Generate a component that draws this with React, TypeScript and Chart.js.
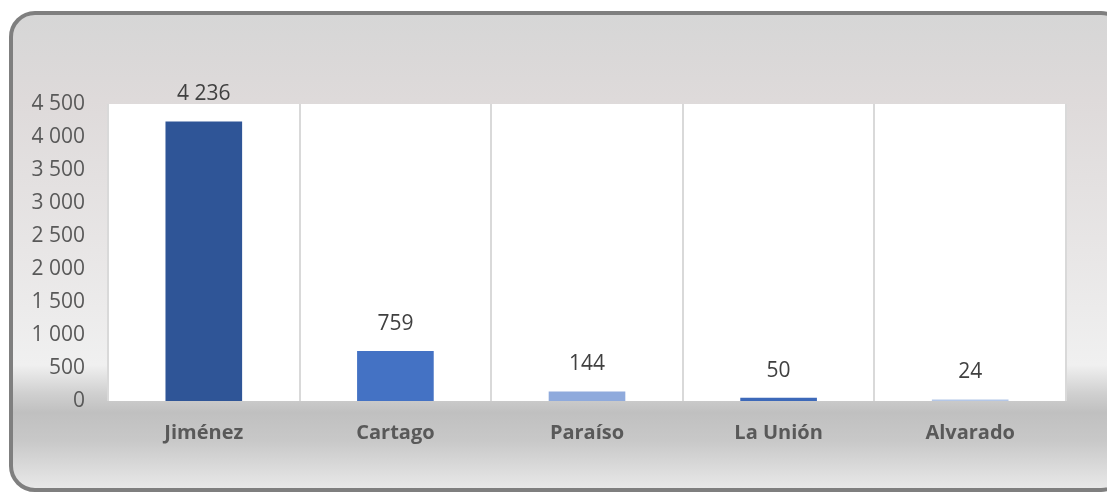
import React, { useEffect, useRef } from "react";
import { Chart, registerables } from "chart.js";

Chart.register(...registerables);

const categories = ["Jiménez", "Cartago", "Paraíso", "La Unión", "Alvarado"];
const values = [4236, 759, 144, 50, 24];
const barColors = ["#2F5597", "#4472C4", "#8FAADC", "#3D69B9", "#B4C7E7"];
const yMax = 4500;
const yStep = 500;

const FONT = "'Open Sans', 'Noto Sans', sans-serif";

function fmt(n: number): string {
  return String(Math.round(n)).replace(/\B(?=(\d{3})+(?!\d))/g, " ");
}

const plotBg = {
  id: "plotBg",
  beforeDraw(chart: any) {
    const { ctx, chartArea } = chart;
    ctx.save();
    ctx.fillStyle = "#ffffff";
    ctx.fillRect(chartArea.left, chartArea.top, chartArea.right - chartArea.left, chartArea.bottom - chartArea.top);
    ctx.restore();
  },
};

const dataLabels = {
  id: "dataLabels",
  afterDatasetsDraw(chart: any) {
    const { ctx } = chart;
    const meta = chart.getDatasetMeta(0);
    ctx.save();
    ctx.font = `21px ${FONT}`;
    ctx.fillStyle = "#404040";
    ctx.textAlign = "center";
    ctx.textBaseline = "middle";
    meta.data.forEach((bar: any, i: number) => {
      ctx.fillText(fmt(values[i]), bar.x, bar.y - 27);
    });
    ctx.restore();
  },
};

export default function App() {
  const ref = useRef<HTMLCanvasElement | null>(null);
  useEffect(() => {
    document.body.style.margin = "0";
    const chart = new Chart(ref.current!, {
      type: "bar",
      data: {
        labels: categories,
        datasets: [
          {
            data: values,
            backgroundColor: barColors,
            borderWidth: 0,
            barPercentage: 0.4,
            categoryPercentage: 1,
          },
        ],
      },
      options: {
        responsive: false,
        animation: false,
        layout: { padding: { left: 8, top: 104, right: 41, bottom: 0 } },
        plugins: { legend: { display: false }, tooltip: { enabled: false } },
        scales: {
          x: {
            grid: { display: true, color: "#d9d9d9", lineWidth: 2, drawTicks: false, offset: true },
            border: { display: false },
            ticks: {
              color: "#595959",
              font: { family: FONT, size: 20, weight: "bold" },
              padding: 20,
            },
            afterFit: (s: any) => {
              s.height = 92;
            },
          },
          y: {
            min: 0,
            max: yMax,
            grid: { display: false, drawTicks: false },
            border: { display: false },
            ticks: {
              stepSize: yStep,
              color: "#595959",
              font: { family: FONT, size: 21 },
              padding: 23,
              callback: (v: any) => fmt(Number(v)),
            },
            afterFit: (s: any) => {
              s.width = 100;
            },
          },
        },
      },
      plugins: [plotBg, dataLabels],
    });
    return () => chart.destroy();
  }, []);

  return (
    <div style={{ position: "relative", width: 1107, height: 493, overflow: "hidden" }}>
      <div
        style={{
          position: "absolute",
          left: 9,
          top: 11,
          width: 1118,
          height: 481,
          boxSizing: "border-box",
          border: "4px solid #7f7f7f",
          borderRadius: 26,
          background:
            "linear-gradient(to bottom, #d6d6d6 0%, #dedada 18%, #e8e6e6 50%, #f0f0f0 74%, #d0d0d0 80%, #c0c0c0 84%, #c8c8c8 90%, #e8e8e8 100%)",
        }}
      />
      <canvas ref={ref} width={1107} height={493} style={{ position: "absolute", left: 0, top: 0 }} />
    </div>
  );
}
